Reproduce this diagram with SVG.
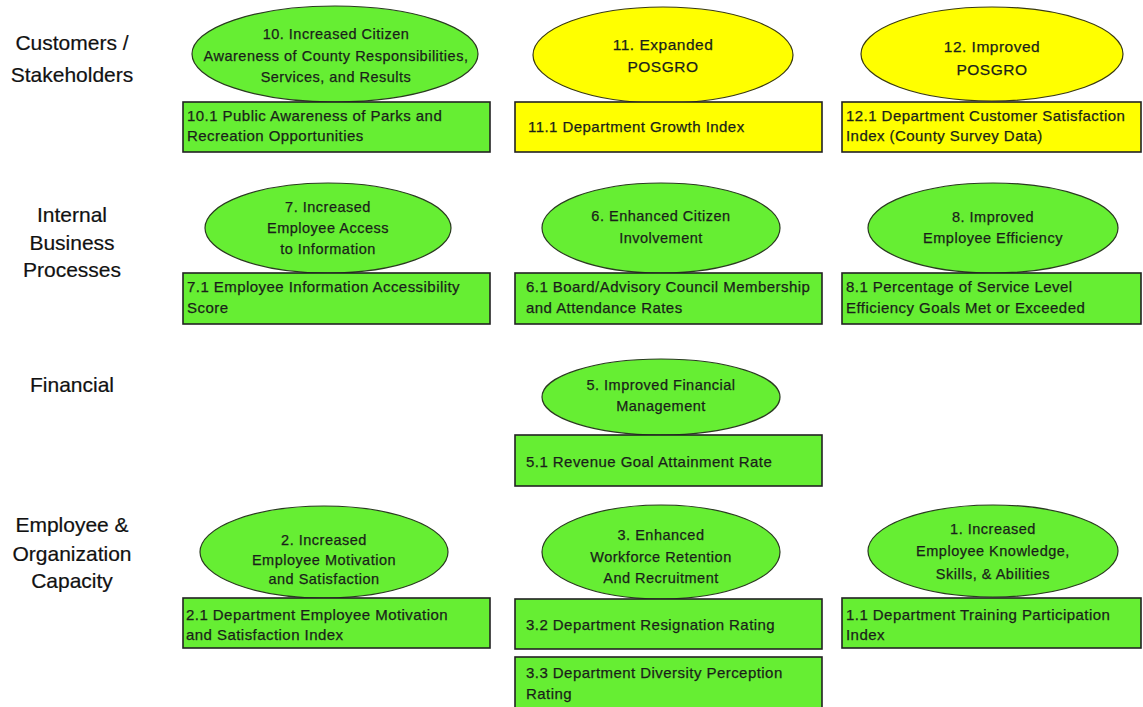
<svg xmlns="http://www.w3.org/2000/svg" width="1143" height="707" viewBox="0 0 1143 707">
<style>
.bg{fill:#ffffff}
.cat{font-family:"Liberation Sans",Arial,sans-serif;font-size:21px;fill:#111;text-anchor:middle;stroke:#111;stroke-width:0.2}
.eg{fill:#66EE33;stroke:#2a3a20;stroke-width:1.2}
.ey{fill:#FFFF00;stroke:#3a3a10;stroke-width:1.2}
.rg{fill:#66EE33;stroke:#222;stroke-width:1.6}
.ry{fill:#FFFF00;stroke:#222;stroke-width:1.6}
.et{font-family:"Liberation Sans",Arial,sans-serif;font-size:14.5px;fill:#1a1f1a;text-anchor:middle;letter-spacing:0.5px;stroke:#1a1f1a;stroke-width:0.25}
.rt{font-family:"Liberation Sans",Arial,sans-serif;font-size:15px;fill:#1a1f1a;letter-spacing:0.45px;stroke:#1a1f1a;stroke-width:0.25}
</style>
<rect class="bg" x="0" y="0" width="1143" height="707"/>
<g id="labels">
<text class="cat" x="72" y="50">Customers /</text>
<text class="cat" x="72" y="82">Stakeholders</text>
<text class="cat" x="72" y="222">Internal</text>
<text class="cat" x="72" y="250">Business</text>
<text class="cat" x="72" y="277">Processes</text>
<text class="cat" x="72" y="392">Financial</text>
<text class="cat" x="72" y="532">Employee &amp;</text>
<text class="cat" x="72" y="561">Organization</text>
<text class="cat" x="72" y="588">Capacity</text>
</g>
<g id="connectors"></g>
<g id="node-10">
<ellipse class="eg" cx="335" cy="54" rx="143" ry="48"/>
<text class="et" x="336" y="39">10. Increased Citizen</text>
<text class="et" x="336" y="61">Awareness of County Responsibilities,</text>
<text class="et" x="336" y="82">Services, and Results</text>
</g>
<g id="node-10-1">
<rect class="rg" x="183" y="102" width="307" height="50"/>
<text class="rt" x="187" y="121">10.1 Public Awareness of Parks and</text>
<text class="rt" x="187" y="141">Recreation Opportunities</text>
</g>
<g id="node-11">
<ellipse class="ey" cx="663" cy="55" rx="130" ry="48"/>
<text class="et" x="663" y="50" style="font-size:15.5px">11. Expanded</text>
<text class="et" x="663" y="72" style="font-size:15.5px">POSGRO</text>
</g>
<g id="node-11-1">
<rect class="ry" x="515" y="102" width="307" height="50"/>
<text class="rt" x="528" y="132">11.1 Department Growth Index</text>
</g>
<g id="node-12">
<ellipse class="ey" cx="992" cy="54" rx="131" ry="47"/>
<text class="et" x="992" y="52" style="font-size:15.5px">12. Improved</text>
<text class="et" x="992" y="75" style="font-size:15.5px">POSGRO</text>
</g>
<g id="node-12-1">
<rect class="ry" x="842" y="102" width="299" height="50"/>
<text class="rt" x="846" y="121">12.1 Department Customer Satisfaction</text>
<text class="rt" x="846" y="141">Index (County Survey Data)</text>
</g>
<g id="node-7">
<ellipse class="eg" cx="328" cy="228" rx="123" ry="45"/>
<text class="et" x="328" y="212">7. Increased</text>
<text class="et" x="328" y="233">Employee Access</text>
<text class="et" x="328" y="254">to Information</text>
</g>
<g id="node-7-1">
<rect class="rg" x="183" y="273" width="307" height="51"/>
<text class="rt" x="187" y="292">7.1 Employee Information Accessibility</text>
<text class="rt" x="187" y="313">Score</text>
</g>
<g id="node-6">
<ellipse class="eg" cx="661" cy="228" rx="119" ry="45"/>
<text class="et" x="661" y="221">6. Enhanced Citizen</text>
<text class="et" x="661" y="243">Involvement</text>
</g>
<g id="node-6-1">
<rect class="rg" x="515" y="273" width="307" height="51"/>
<text class="rt" x="526" y="292">6.1 Board/Advisory Council Membership</text>
<text class="rt" x="526" y="313">and Attendance Rates</text>
</g>
<g id="node-8">
<ellipse class="eg" cx="993" cy="228" rx="125" ry="45"/>
<text class="et" x="993" y="222">8. Improved</text>
<text class="et" x="993" y="243">Employee Efficiency</text>
</g>
<g id="node-8-1">
<rect class="rg" x="842" y="273" width="299" height="51"/>
<text class="rt" x="846" y="292">8.1 Percentage of Service Level</text>
<text class="rt" x="846" y="313">Efficiency Goals Met or Exceeded</text>
</g>
<g id="node-5">
<ellipse class="eg" cx="661" cy="397" rx="119" ry="38"/>
<text class="et" x="661" y="390">5. Improved Financial</text>
<text class="et" x="661" y="411">Management</text>
</g>
<g id="node-5-1">
<rect class="rg" x="515" y="435" width="307" height="51"/>
<text class="rt" x="526" y="467">5.1 Revenue Goal Attainment Rate</text>
</g>
<g id="node-2">
<ellipse class="eg" cx="324" cy="552" rx="124" ry="46"/>
<text class="et" x="324" y="545">2. Increased</text>
<text class="et" x="324" y="565">Employee Motivation</text>
<text class="et" x="324" y="584">and Satisfaction</text>
</g>
<g id="node-2-1">
<rect class="rg" x="183" y="598" width="307" height="50"/>
<text class="rt" x="186" y="620">2.1 Department Employee Motivation</text>
<text class="rt" x="186" y="640">and Satisfaction Index</text>
</g>
<g id="node-3">
<ellipse class="eg" cx="661" cy="552" rx="119" ry="47"/>
<text class="et" x="661" y="540">3. Enhanced</text>
<text class="et" x="661" y="562">Workforce Retention</text>
<text class="et" x="661" y="583">And Recruitment</text>
</g>
<g id="node-3-2">
<rect class="rg" x="515" y="599" width="307" height="50"/>
<text class="rt" x="526" y="630">3.2 Department Resignation Rating</text>
</g>
<g id="node-3-3">
<rect class="rg" x="515" y="657" width="307" height="54"/>
<text class="rt" x="526" y="678">3.3 Department Diversity Perception</text>
<text class="rt" x="526" y="699">Rating</text>
</g>
<g id="node-1">
<ellipse class="eg" cx="993" cy="551" rx="125" ry="46"/>
<text class="et" x="993" y="534">1. Increased</text>
<text class="et" x="993" y="556">Employee Knowledge,</text>
<text class="et" x="993" y="579">Skills, &amp; Abilities</text>
</g>
<g id="node-1-1">
<rect class="rg" x="842" y="598" width="299" height="50"/>
<text class="rt" x="846" y="620">1.1 Department Training Participation</text>
<text class="rt" x="846" y="640">Index</text>
</g>
</svg>
